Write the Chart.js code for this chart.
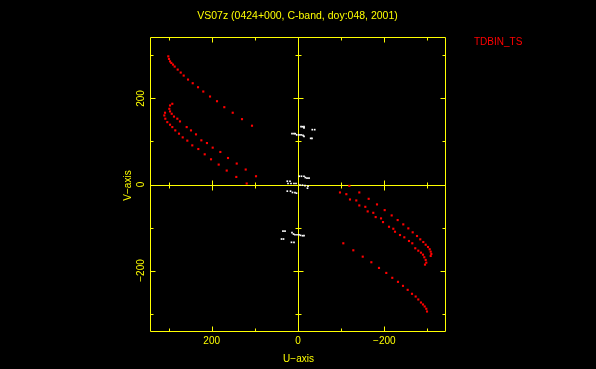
<!DOCTYPE html>
<html>
<head>
<meta charset="utf-8">
<script src="https://cdn.jsdelivr.net/npm/chart.js@4"></script>
<style>
  body { margin: 0; background: #000; }
  canvas { display: block; }
</style>
</head>
<body>
<canvas id="uvplot" width="596" height="369"></canvas>
<script>
// uv-coverage tracks (u, v in same units as the axes)
let track1U = [300.6, 299.0, 296.6, 293.6, 289.7, 285.8, 278.8, 271.8, 264.9, 254.9, 244.0, 231.7, 219.5, 203.9, 187.7, 170.8, 151.3, 129.8, 106.6]
let track1V = [298.0, 292.0, 286.4, 282.7, 278.8, 274.2, 267.2, 260.3, 253.3, 244.0, 235.5, 226.2, 216.2, 204.6, 193.7, 179.8, 166.9, 152.0, 136.7]

let track2U = [291.3, 296.6, 298.2, 296.6, 292.7, 287.4, 279.7, 273.5, 258.0, 248.0, 236.4, 224.0, 211.0, 197.7, 180.0, 162.2, 142.0, 121.2, 97.3]
let track2V = [187.7, 183.8, 176.0, 170.0, 164.5, 158.0, 153.0, 146.7, 133.5, 125.8, 116.6, 102.7, 96.4, 85.7, 75.6, 61.6, 48.7, 34.8, 19.2]

let track3U = [308.2, 309.8, 307.5, 302.9, 296.6, 291.3, 284.4, 275.8, 267.2, 256.5, 245.0, 231.0, 216.2, 201.6, 183.8, 165.2, 143.0, 118.9]
let track3V = [166.9, 160.6, 153.0, 145.0, 139.0, 133.5, 125.8, 118.2, 109.6, 102.0, 91.0, 82.5, 70.2, 58.6, 46.3, 32.4, 17.6, 2.3]

let track1cU = [-105.0, -128.2, -150.0, -170.0, -187.7, -204.6, -218.5, -231.7, -243.3, -254.2, -264.2, -272.7, -278.8, -285.0, -289.7, -293.6, -297.3, -299.0]
let track1cV = [-136.7, -153.0, -167.8, -180.8, -194.0, -205.6, -217.0, -226.4, -235.7, -245.0, -254.2, -260.5, -267.4, -274.4, -279.0, -283.7, -289.0, -295.3]

let track2cU = [-97.3, -112.0, -120.5, -135.1, -142.1, -156.0, -161.5, -174.5, -180.0, -192.4, -197.0, -210.9, -220.9, -224.8, -236.4, -246.4, -257.2, -264.9, -271.8, -278.8, -285.0, -289.7, -292.7, -295.9, -297.3, -294.3]
let track2cV = [-18.5, -22.5, -34.8, -37.1, -48.7, -51.9, -62.6, -65.8, -75.8, -78.8, -87.4, -98.3, -102.9, -109.8, -117.5, -122.8, -131.4, -136.7, -148.3, -153.9, -158.5, -163.2, -169.2, -175.4, -181.7, -186.3]

let track3cU = [-118.9, -142.1, -163.8, -183.1, -200.9, -217.1, -231.0, -244.0, -255.7, -265.8, -275.8, -283.4, -290.4, -295.9, -301.3, -305.2, -307.5, -309.0, -307.5]
let track3cV = [-3.2, -18.5, -33.3, -46.3, -59.6, -71.9, -82.7, -92.7, -102.0, -111.2, -119.8, -127.5, -133.7, -140.0, -145.3, -150.6, -156.2, -161.5, -166.2]

// short-baseline points (white)
let shortU = [-7.0, -10.4, -13.9, -13.9, -33.1, -38.7, -29.4, -32.4, 13.9, 9.3, 6.3, 3.0, -2.3, -7.0, -11.6, -13.9,
              -3.0, -8.1, -13.9, -16.9, -20.9, -25.5, 24.8, 18.5, 23.2, 16.2, 9.3, 4.6, -4.6, -10.4, -16.2, -23.2, -22.0, 24.8, 17.4, 12.7, 7.0, 3.5,
              34.8, 30.1, 13.9, 10.4, 7.0, 2.3, -2.3, -5.8, -10.4, -13.9, 38.2, 33.6, 15.1, 9.3]
let shortV = [134.4, 134.4, 134.4, 131.6, 127.5, 127.5, 107.3, 107.3, 118.2, 118.2, 118.2, 115.4, 115.4, 115.4, 114.3, 112.0,
              19.2, 19.2, 19.2, 16.2, 14.6, 14.6, 7.6, 7.6, 2.3, 2.3, 2.3, 2.3, -1.2, -1.6, -2.8, -3.9, -8.6, -15.5, -15.5, -18.5, -19.0, -20.2,
              -108.2, -108.2, -111.7, -115.2, -116.8, -116.8, -116.8, -118.2, -119.1, -119.1, -126.8, -126.8, -134.4, -134.4]

let majorTicks = [-200, 0, 200]
let minorTicks = [-300, -100, 100, 300]
let tickLabels = ['\u2212200', '0', '200']
let axisLimit = 343

const yellow = '#ffff00'
const labelFont = '10px "Liberation Sans"'
const titleFont = '10.5px "Liberation Sans"'

function pts(us, vs) {
  return us.map((u, i) => ({ x: u, y: vs[i] }))
}

let redPoints = [].concat(
  pts(track1U, track1V), pts(track2U, track2V), pts(track3U, track3V),
  pts(track1cU, track1cV), pts(track2cU, track2cV), pts(track3cU, track3cV)
)

const pgframe = {
  id: 'pgframe',
  beforeDraw(chart) {
    const ctx = chart.ctx
    ctx.save()
    ctx.fillStyle = '#000'
    ctx.fillRect(0, 0, chart.width, chart.height)
    ctx.restore()
  },
  beforeDatasetsDraw(chart) {
    const { ctx, chartArea: a, scales } = chart
    const xs = scales.x, ys = scales.y
    const c = v => Math.round(v) + 0.5
    ctx.save()
    ctx.strokeStyle = yellow
    ctx.lineWidth = 1
    ctx.beginPath()
    ctx.rect(c(a.left), c(a.top), Math.round(a.right) - Math.round(a.left) - 1, Math.round(a.bottom) - Math.round(a.top) - 1)
    const x0 = c(xs.getPixelForValue(0)), y0 = c(ys.getPixelForValue(0))
    ctx.moveTo(x0, c(a.top)); ctx.lineTo(x0, c(a.bottom - 1))
    ctx.moveTo(c(a.left), y0); ctx.lineTo(c(a.right - 1), y0)

    const tick = (v, len) => {
      const px = c(xs.getPixelForValue(v)), py = c(ys.getPixelForValue(v))
      // box edges, ticks pointing inward
      ctx.moveTo(px, c(a.bottom - 1)); ctx.lineTo(px, c(a.bottom - 1) - len)
      ctx.moveTo(px, c(a.top)); ctx.lineTo(px, c(a.top) + len)
      ctx.moveTo(c(a.left), py); ctx.lineTo(c(a.left) + len, py)
      ctx.moveTo(c(a.right - 1), py); ctx.lineTo(c(a.right - 1) - len, py)
      // ticks across the zero lines
      if (v !== 0) {
        ctx.moveTo(px, y0 - len); ctx.lineTo(px, y0 + len)
        ctx.moveTo(x0 - len, py); ctx.lineTo(x0 + len, py)
      }
    }
    majorTicks.forEach(v => tick(v, 5))
    minorTicks.forEach(v => tick(v, 3))
    ctx.stroke()

    ctx.fillStyle = yellow
    ctx.font = labelFont
    ctx.textAlign = 'center'
    ctx.textBaseline = 'middle'
    majorTicks.forEach((v, i) => {
      ctx.fillText(tickLabels[i], xs.getPixelForValue(v), a.bottom + 9)
      ctx.save()
      ctx.translate(a.left - 8.5, ys.getPixelForValue(v))
      ctx.rotate(-Math.PI / 2)
      ctx.fillText(tickLabels[i], 0, 0)
      ctx.restore()
    })
    ctx.fillText('U\u2212axis', x0, 359)
    ctx.save()
    ctx.translate(128, y0)
    ctx.rotate(-Math.PI / 2)
    ctx.fillText('V\u2212axis', 0, 0)
    ctx.restore()

    ctx.font = titleFont
    ctx.fillText('VS07z (0424+000, C-band, doy:048, 2001)', 297.5, 16)
    ctx.font = labelFont
    ctx.fillStyle = '#ff0000'
    ctx.textAlign = 'left'
    ctx.fillText('TDBIN_TS', 474, 42)
    ctx.restore()
  }
}

new Chart(document.getElementById('uvplot'), {
  type: 'scatter',
  data: {
    datasets: [
      {
        label: 'TDBIN_TS',
        data: redPoints,
        backgroundColor: '#ff0000',
        pointStyle: 'rect',
        pointRadius: 1.5,
        borderWidth: 0
      },
      {
        label: 'short',
        data: pts(shortU, shortV),
        backgroundColor: '#ffffff',
        pointStyle: 'rect',
        pointRadius: 1.2,
        borderWidth: 0
      }
    ]
  },
  options: {
    responsive: false,
    animation: false,
    layout: { padding: { left: 150, right: 150, top: 37, bottom: 37 } },
    plugins: { legend: { display: false }, tooltip: { enabled: false } },
    scales: {
      x: { display: false, reverse: true, min: -axisLimit, max: axisLimit },
      y: { display: false, min: -axisLimit, max: axisLimit }
    }
  },
  plugins: [pgframe]
})
</script>
</body>
</html>
